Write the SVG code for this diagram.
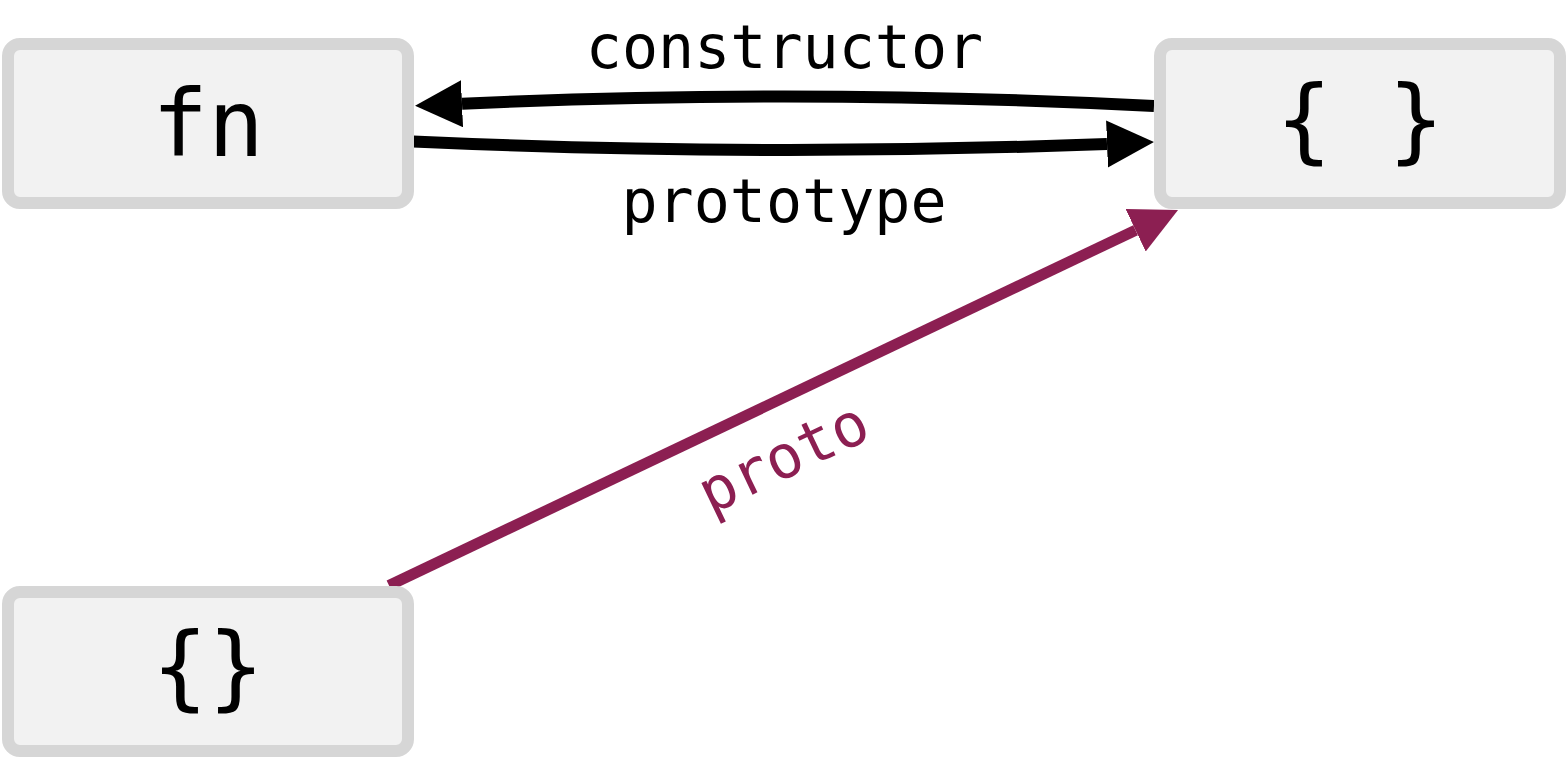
<svg xmlns="http://www.w3.org/2000/svg" width="1568" height="760" viewBox="0 0 1568 760">
  <style>
    .node rect { fill: #f2f2f2; stroke: #d6d6d6; stroke-width: 12; }
    .node text { font-family: "DejaVu Sans Mono", "Liberation Mono", monospace; font-size: 93px; fill: #000; text-anchor: middle; }
    .lbl { font-family: "DejaVu Sans Mono", "Liberation Mono", monospace; font-size: 60px; text-anchor: middle; }
    .edge { fill: none; stroke: #000; stroke-width: 12; }
    .proto { fill: none; stroke: #8c1f52; stroke-width: 11; }
  </style>
  <defs>
    <marker id="ahBlack" markerUnits="userSpaceOnUse" markerWidth="50" markerHeight="50" refX="0" refY="23.5" orient="auto" viewBox="0 0 50 50">
      <path d="M0,0 L47,23.5 L0,47 Z" fill="#000"/>
    </marker>
    <marker id="ahPurple" markerUnits="userSpaceOnUse" markerWidth="50" markerHeight="50" refX="0" refY="23.5" orient="auto" viewBox="0 0 50 50">
      <path d="M0,0 L47,23.5 L0,47 Z" fill="#8c1f52"/>
    </marker>
  </defs>

  <g id="connectors">
    <path id="e-constructor" class="edge" d="M1154,106 Q808,88.2 462,103.7" marker-end="url(#ahBlack)"/>
    <path id="e-prototype" class="edge" d="M413,141.5 Q760,157.2 1107,143.9" marker-end="url(#ahBlack)"/>
    <path id="e-proto" class="proto" d="M389,585.5 L1135.6,230.2" marker-end="url(#ahPurple)"/>
    <text class="lbl" x="784.5" y="68" fill="#000">constructor</text>
    <text class="lbl" x="784" y="222" fill="#000">prototype</text>
    <text class="lbl" x="0" y="0" fill="#8c1f52" transform="translate(792,476) rotate(-25.5)">proto</text>
  </g>

  <g id="node-fn" class="node">
    <rect x="8" y="44" width="400" height="159" rx="12" ry="12"/>
    <text x="208" y="156">fn</text>
  </g>
  <g id="node-proto-obj" class="node">
    <rect x="1160" y="44" width="400" height="159" rx="12" ry="12"/>
    <text x="1360" y="152">{ }</text>
  </g>
  <g id="node-instance" class="node">
    <rect x="8" y="592" width="400" height="159" rx="12" ry="12"/>
    <text x="208" y="699">{}</text>
  </g>
</svg>
